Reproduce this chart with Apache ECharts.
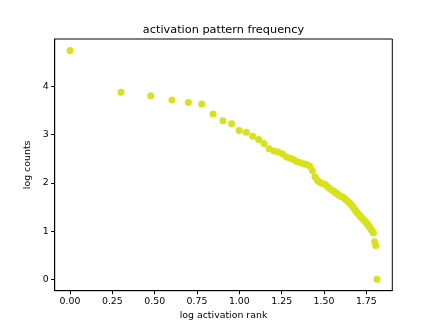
<!DOCTYPE html>
<html>
<head>
<meta charset="utf-8">
<script src="https://cdn.jsdelivr.net/npm/echarts@6/dist/echarts.min.js"></script>
<style>
  html, body { margin: 0; padding: 0; background: #fff; }
  #chart { width: 436px; height: 327px; }
</style>
</head>
<body>
<div id="chart"></div>
<script>
// log10 of activation rank (1..65)
const logRank = [
  0, 0.301, 0.477, 0.602, 0.699, 0.778, 0.845, 0.903, 0.954, 1.0,
  1.041, 1.079, 1.114, 1.146, 1.176, 1.204, 1.230, 1.255, 1.279, 1.301,
  1.322, 1.342, 1.362, 1.380, 1.398, 1.415, 1.431, 1.447, 1.462, 1.477,
  1.491, 1.505, 1.519, 1.531, 1.544, 1.556, 1.568, 1.580, 1.591, 1.602,
  1.613, 1.623, 1.633, 1.643, 1.653, 1.663, 1.672, 1.681, 1.690, 1.699,
  1.708, 1.716, 1.724, 1.732, 1.740, 1.748, 1.756, 1.763, 1.771, 1.778,
  1.785, 1.792, 1.799, 1.806, 1.813
];
// log10 of counts
const logCounts = [
  4.75, 3.88, 3.81, 3.72, 3.67, 3.64, 3.43, 3.29, 3.23, 3.09,
  3.05, 2.97, 2.90, 2.82, 2.71, 2.66, 2.64, 2.60, 2.54, 2.51,
  2.48, 2.44, 2.42, 2.40, 2.38, 2.35, 2.26, 2.13, 2.05, 2.01,
  1.99, 1.97, 1.93, 1.89, 1.86, 1.83, 1.80, 1.77, 1.74, 1.72,
  1.70, 1.67, 1.64, 1.61, 1.58, 1.54, 1.50, 1.45, 1.41, 1.37,
  1.34, 1.30, 1.27, 1.24, 1.21, 1.18, 1.15, 1.11, 1.08, 1.04,
  1.00, 0.96, 0.78, 0.70, 0
];
const xTicks = [0, 0.25, 0.5, 0.75, 1.0, 1.25, 1.5, 1.75];
const yTicks = [0, 1, 2, 3, 4];

const font = 'DejaVu Sans';
let chart = echarts.init(document.getElementById('chart'));

let points = logRank.map(function (x, i) { return [x, logCounts[i]]; });

// matplotlib style 5% margins
let xMin = -0.0906, xMax = 1.9035;
let yMin = -0.2375, yMax = 4.9875;

let axisCommon = {
  type: 'value',
  splitLine: { show: false },
  axisLine: { show: true, onZero: false, lineStyle: { color: '#000', width: 1 } },
  axisTick: { show: true, length: 3.5, lineStyle: { color: '#000' } },
  nameTextStyle: { color: '#000', fontFamily: font, fontSize: 9.4 }
};

let option = {
  animation: false,
  backgroundColor: '#fff',
  graphic: [{
    type: 'text',
    left: null,
    x: 223.5,
    y: 30,
    style: {
      text: 'activation pattern frequency',
      fill: '#000',
      font: '11.3px "DejaVu Sans"',
      textAlign: 'center',
      textVerticalAlign: 'middle'
    }
  }],
  grid: {
    left: 54.7, right: 43.7, top: 39, bottom: 36.3,
    show: true, borderColor: '#000', borderWidth: 1
  },
  xAxis: Object.assign({}, axisCommon, {
    min: xMin, max: xMax,
    name: 'log activation rank',
    nameLocation: 'middle',
    nameGap: 18,
    axisTick: Object.assign({}, axisCommon.axisTick, { customValues: xTicks }),
    axisLabel: {
      customValues: xTicks,
      color: '#000', fontFamily: font, fontSize: 9.4, margin: 6,
      formatter: function (v) { return v.toFixed(2); }
    }
  }),
  yAxis: Object.assign({}, axisCommon, {
    min: yMin, max: yMax,
    name: 'log counts',
    nameLocation: 'middle',
    nameGap: 17,
    axisTick: Object.assign({}, axisCommon.axisTick, { customValues: yTicks }),
    axisLabel: {
      customValues: yTicks,
      color: '#000', fontFamily: font, fontSize: 9.4, margin: 6
    }
  }),
  series: [{
    type: 'scatter',
    data: points,
    symbolSize: 7,
    itemStyle: { color: '#d8e219', opacity: 1 }
  }]
};
chart.setOption(option);
</script>
</body>
</html>
